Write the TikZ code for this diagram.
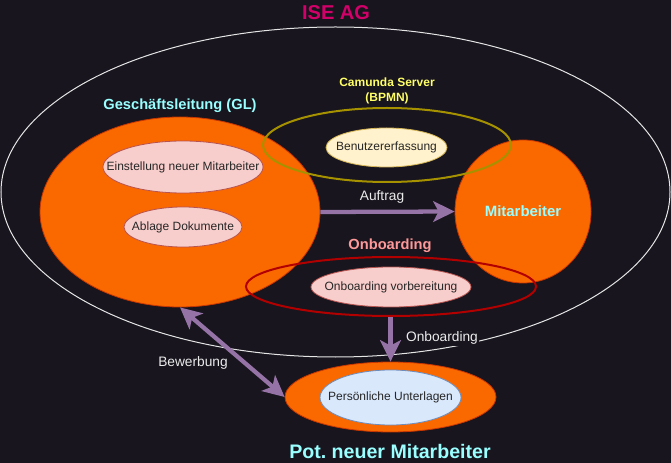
\documentclass[tikz,border=0pt]{standalone}
\usepackage{fontspec}
\setmainfont{Liberation Sans}
\usetikzlibrary{arrows.meta,shapes.geometric}
\frenchspacing
\definecolor{bg}{HTML}{18151E}
\definecolor{orng}{HTML}{FA6800}
\definecolor{orngd}{HTML}{C73500}
\definecolor{pinkf}{HTML}{F8CECC}
\definecolor{pinkd}{HTML}{B85450}
\definecolor{yelf}{HTML}{FFF2CC}
\definecolor{yeld}{HTML}{D6B656}
\definecolor{bluef}{HTML}{DAE8FC}
\definecolor{blued}{HTML}{6C8EBF}
\definecolor{purp}{HTML}{9673A6}
\definecolor{olive}{HTML}{A69200}
\definecolor{redd}{HTML}{B20000}
\definecolor{magen}{HTML}{D4006A}
\definecolor{cyanl}{HTML}{99FFFF}
\definecolor{yell}{HTML}{FFFF66}
\definecolor{salm}{HTML}{FF9999}
\newcommand{\zw}[1]{\makebox[0pt][c]{#1}}
\tikzset{
  ell/.style={ellipse, inner sep=0pt},
  bigorange/.style={ell, fill=orng, draw=orngd, line width=0.6pt},
  pinkbox/.style={ell, fill=pinkf, draw=pinkd, line width=0.6pt, font=\fontsize{9}{11}\selectfont, text=black!85},
  ringline/.style={ell, line width=1.5pt},
  titletext/.style={font=\fontsize{11}{13}\selectfont\bfseries},
  plainlabel/.style={text=white!92!black, fill=bg, inner sep=1pt, font=\fontsize{10.3}{12}\selectfont},
  flow/.style={draw=purp, line width=3.2pt, -{Stealth[length=16pt,width=15.5pt,inset=4pt]}},
  flow2/.style={draw=purp, line width=3.2pt, {Stealth[length=16pt,width=15.5pt,inset=4pt]}-{Stealth[length=16pt,width=15.5pt,inset=4pt]}}
}
\begin{document}
\begin{tikzpicture}[x=0.75pt,y=-0.75pt]
\fill[bg] (0,0) rectangle (671,463);
\useasboundingbox (0,0) rectangle (671,463);
% outer company ellipse
\node[ell, draw=white!90!black, line width=0.75pt, minimum width=501.75pt, minimum height=247.5pt] (ise) at (335.5,192) {};
\node[text=magen, font=\fontsize{15}{18}\selectfont\bfseries] (isel) at (336,13) {ISE AG};
% GL
\node[bigorange, minimum width=210pt, minimum height=142.5pt] (gl) at (180,212) {};
\node[titletext, text=cyanl] (gll) at (180,106) {Geschäftsleitung (GL)};
% Mitarbeiter
\node[bigorange, minimum width=102pt, minimum height=107.25pt, text=cyanl, font=\fontsize{11.2}{13}\selectfont\bfseries] (ma) at (523,211.5) {\zw{Mitarbeiter}};
% Camunda
\node[ringline, draw=olive, minimum width=186pt, minimum height=55.5pt] (cam) at (387,145) {};
\node[text=yell, font=\fontsize{9}{11.25}\selectfont\bfseries, align=center] (caml) at (387,90.5) {Camunda Server\\(BPMN)};
% Onboarding ring
\node[ringline, draw=redd, minimum width=217.5pt, minimum height=44.25pt] (onb) at (391,286.5) {};
\node[titletext, text=salm] (onbl) at (390,246) {Onboarding};
% inner boxes
\node[pinkbox, minimum width=120pt, minimum height=39pt] (ein) at (183,167) {\zw{Einstellung neuer Mitarbeiter}};
\node[pinkbox, minimum width=88.5pt, minimum height=30pt] (abl) at (183,227) {\zw{Ablage Dokumente}};
\node[pinkbox, fill=yelf, draw=yeld, minimum width=90.75pt, minimum height=29.25pt] (ben) at (386.5,147.5) {\zw{Benutzererfassung}};
\node[pinkbox, minimum width=120pt, minimum height=30pt] (vor) at (391,287) {\zw{Onboarding vorbereitung}};
% Pot. neuer Mitarbeiter
\node[bigorange, minimum width=158.25pt, minimum height=52.5pt] (pot) at (390.5,397) {};
\node[pinkbox, fill=bluef, draw=blued, minimum width=105.75pt, minimum height=41.25pt] (per) at (390.5,397.5) {\zw{Persönliche Unterlagen}};
\node[text=cyanl, font=\fontsize{14.7}{17}\selectfont\bfseries] (potl) at (390,451) {Pot. neuer Mitarbeiter};
% connectors
\draw[flow] (gl.east) -- (ma.west);
\node[plainlabel] (auf) at (382,197) {Auftrag};
\draw[flow] (onb.south -| pot.north) -- (pot.north);
\node[plainlabel] (onbe) at (442,338) {Onboarding};
\draw[flow2] (gl.south) -- (pot.west);
\node[plainlabel] (bew) at (193,363) {Bewerbung};
\end{tikzpicture}
\end{document}
